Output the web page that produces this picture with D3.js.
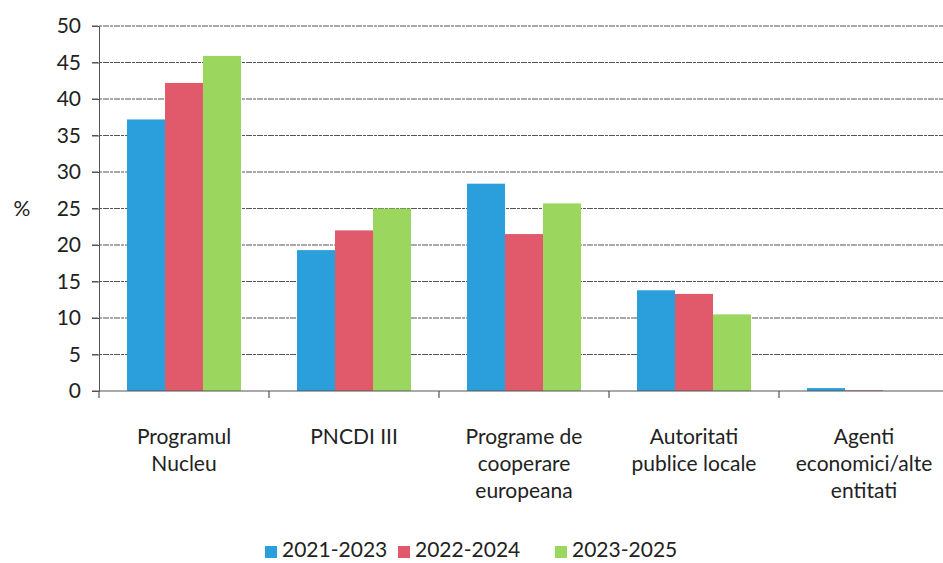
<!DOCTYPE html>
<html>
<head>
<meta charset="utf-8">
<script src="https://cdn.jsdelivr.net/npm/d3@7"></script>
<style>
  body { margin: 0; background: #fff; }
  text { font-family: Lato, "Open Sans", sans-serif; fill: #222; }
</style>
</head>
<body>
<script>
// values
var categories = [["Programul", "Nucleu"], ["PNCDI III"], ["Programe de", "cooperare", "europeana"],
                  ["Autoritati", "publice locale"], ["Agenti", "economici/alte", "entitati"]];
var seriesNames = ["2021-2023", "2022-2024", "2023-2025"];
var s2021 = [37.2, 19.3, 28.4, 13.8, 0.4];
var s2022 = [42.2, 22.0, 21.5, 13.3, 0.1];
var s2023 = [45.9, 25.0, 25.7, 10.5, 0];
var yTicks = [0, 5, 10, 15, 20, 25, 30, 35, 40, 45, 50];
var colors = ["#2a9fdb", "#e05a6b", "#9bd65e"];

var w = 943, h = 563;
var plotL = 99, plotR = 949, plotT = 26, plotB = 391;

var svg = d3.select("body").append("svg").attr("width", w).attr("height", h);

var x0 = d3.scaleBand().domain(d3.range(categories.length)).range([plotL, plotR]);
var x1 = d3.scaleBand().domain(d3.range(seriesNames.length)).range([28, 142]);
var y = d3.scaleLinear().domain([0, 50]).range([plotB, plotT]);

// grid lines
svg.append("g").selectAll("line").data(yTicks.filter(function(d){ return d > 0; })).enter().append("line")
  .attr("x1", plotL - 7).attr("x2", w)
  .attr("y1", function(d){ return y(d); }).attr("y2", function(d){ return y(d); })
  .attr("stroke", "#555").attr("stroke-width", 1.2).attr("stroke-dasharray", "6,1,3,1");

// y axis
var yAxis = d3.axisLeft(y).tickValues(yTicks).tickSize(7).tickPadding(11);
var gy = svg.append("g").attr("transform", "translate(" + plotL + ",0)").call(yAxis);
gy.selectAll("text").style("font-size", "21px").attr("fill", "#222");
gy.selectAll("line, path").attr("stroke", "#555");

svg.append("text").attr("x", 22).attr("y", 211).attr("text-anchor", "middle")
  .attr("dominant-baseline", "middle").style("font-size", "21px").text("%");

// bars
var data = [s2021, s2022, s2023];
var groups = svg.selectAll("g.cat").data(d3.range(categories.length)).enter().append("g")
  .attr("transform", function(i){ return "translate(" + x0(i) + ",0)"; });
groups.selectAll("rect").data(function(i){ return data.map(function(s, k){ return {k: k, v: s[i]}; }); })
  .enter().append("rect")
  .attr("x", function(d){ return x1(d.k); })
  .attr("width", x1.bandwidth())
  .attr("y", function(d){ return y(d.v); })
  .attr("height", function(d){ return plotB - y(d.v); })
  .attr("fill", function(d){ return colors[d.k]; });

// x axis
svg.append("line").attr("x1", plotL - 7).attr("x2", w).attr("y1", plotB).attr("y2", plotB)
  .attr("stroke", "#555").attr("stroke-width", 1.2);
svg.append("g").selectAll("line").data(d3.range(categories.length)).enter().append("line")
  .attr("x1", function(i){ return x0(i); }).attr("x2", function(i){ return x0(i); })
  .attr("y1", plotB).attr("y2", plotB + 7).attr("stroke", "#555").attr("stroke-width", 1.2);

// category labels
svg.append("g").selectAll("text").data(categories).enter().append("text")
  .attr("text-anchor", "middle").style("font-size", "21px")
  .attr("transform", function(d, i){ return "translate(" + (x0(i) + x0.bandwidth() / 2) + ",444)"; })
  .selectAll("tspan").data(function(d){ return d; }).enter().append("tspan")
  .attr("x", 0).attr("y", function(d, j){ return j * 27; }).text(function(d){ return d; });

// legend
var legX = [265, 398, 555];
var leg = svg.append("g").selectAll("g").data(seriesNames).enter().append("g")
  .attr("transform", function(d, i){ return "translate(" + legX[i] + ",552)"; });
leg.append("rect").attr("x", 0).attr("y", -6).attr("width", 12).attr("height", 12)
  .attr("fill", function(d, i){ return colors[i]; });
leg.append("text").attr("x", 17).attr("y", 0).attr("dominant-baseline", "middle")
  .style("font-size", "21px").text(function(d){ return d; });
</script>
</body>
</html>
